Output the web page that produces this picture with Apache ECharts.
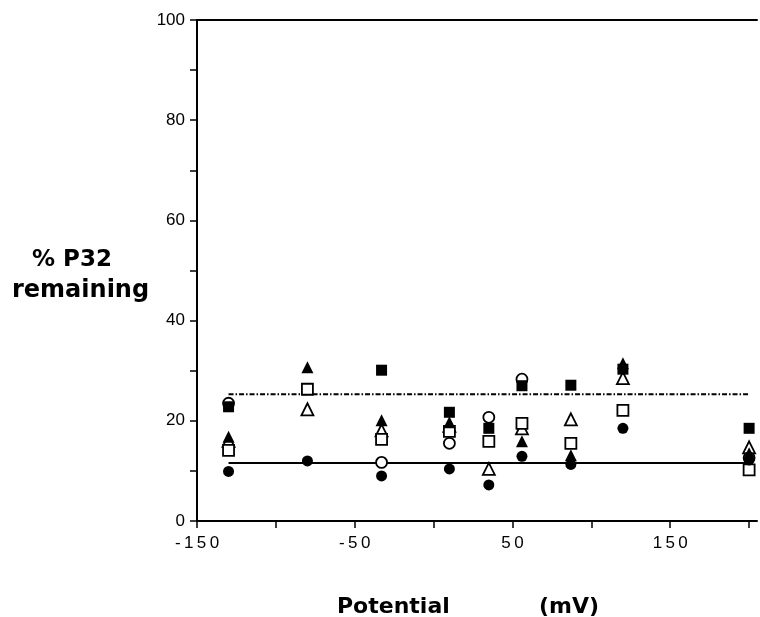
<!DOCTYPE html>
<html>
<head>
<meta charset="utf-8">
<script src="https://cdn.jsdelivr.net/npm/echarts@6/dist/echarts.min.js"></script>
<style>
  html, body { margin: 0; padding: 0; background: #fff; }
  #chart { width: 760px; height: 617px; }
</style>
</head>
<body>
<div id="chart"></div>
<script>
// membrane potential (mV) of each column of points
var potentials = [-130, -80, -33, 10, 35, 56, 87, 120, 200];

// % P32 remaining, one array per marker type (null = no point)
var filledCircle   = [9.9, 12.0, 9.0, 10.4, 7.2, 12.9, 11.3, 18.5, 12.2];
var openCircle     = [23.5, null, 11.7, 15.5, 20.7, 28.3, null, null, 12.6];
var filledSquare   = [22.8, null, 30.1, 21.7, 18.5, 27.0, 27.1, 30.3, 18.5];
var openSquare     = [14.1, 26.3, 16.3, 17.9, 15.9, 19.5, 15.5, 22.1, 10.2];
var filledTriangle = [16.8, 30.7, 20.1, 19.7, null, 15.9, 13.1, 31.5, 13.5];
var openTriangle   = [16.0, 22.3, 18.1, 19.0, 10.4, 18.5, 20.3, 28.5, 14.7];

// horizontal reference lines
var fitX = [-130, 200];
var solidFitY = 11.6;
var dashFitY = 25.3;

// tick labels
var xTickLabels = [-150, -50, 50, 150];
var yTickLabels = [0, 20, 40, 60, 80, 100];

function pairs(ys) {
    var out = [];
    for (var i = 0; i < potentials.length; i++) {
        if (ys[i] !== null) out.push([potentials[i], ys[i]]);
    }
    return out;
}

function spaced(s) {
    return String(s).split('').join('\u2009');
}

var font = 'Liberation Sans, Arial, sans-serif';

function marker(name, data, symbol, size, filled) {
    return {
        name: name,
        type: 'scatter',
        data: pairs(data),
        symbol: symbol,
        symbolSize: size,
        itemStyle: filled
            ? { color: '#000', opacity: 1 }
            : { color: '#fff', borderColor: '#000', borderWidth: 1.8, opacity: 1 },
        z: 3
    };
}

var myChart = echarts.init(document.getElementById('chart'));

myChart.setOption({
    backgroundColor: '#fff',
    animation: false,
    grid: { left: 197, right: 3, top: 20, bottom: 96 },
    xAxis: [
        {
            type: 'value',
            min: -150,
            max: 205,
            interval: 50,
            splitLine: { show: false },
            axisLine: { onZero: false, lineStyle: { color: '#000', width: 2 } },
            axisTick: { length: 7, lineStyle: { color: '#000', width: 1.5 } },
            axisLabel: {
                color: '#000',
                fontFamily: font,
                fontSize: 17,
                margin: 14,
                showMaxLabel: false,
                formatter: function (v) {
                    return xTickLabels.indexOf(v) >= 0 ? spaced(v) : '';
                }
            }
        },
        {
            type: 'value',
            position: 'top',
            min: -150,
            max: 205,
            splitLine: { show: false },
            axisLine: { onZero: false, lineStyle: { color: '#000', width: 2 } },
            axisTick: { show: false },
            axisLabel: { show: false }
        }
    ],
    yAxis: {
        type: 'value',
        min: 0,
        max: 100,
        interval: 10,
        splitLine: { show: false },
        axisLine: { onZero: false, lineStyle: { color: '#000', width: 2 } },
        axisTick: { length: 7, lineStyle: { color: '#000', width: 1.5 } },
        axisLabel: {
            color: '#000',
            fontFamily: font,
            fontSize: 17,
            margin: 12,
            formatter: function (v) {
                return yTickLabels.indexOf(v) >= 0 ? String(v) : '';
            }
        }
    },
    graphic: [
        {
            type: 'text',
            left: 32,
            top: 249,
            style: { text: '% P32', font: 'bold 23px DejaVu Sans, sans-serif', fill: '#000' }
        },
        {
            type: 'text',
            left: 12,
            top: 279,
            style: { text: 'remaining', font: 'bold 24px DejaVu Sans, sans-serif', fill: '#000' }
        },
        {
            type: 'text',
            left: 337,
            top: 596,
            style: { text: 'Potential', font: 'bold 22px DejaVu Sans, sans-serif', fill: '#000' }
        },
        {
            type: 'text',
            left: 539,
            top: 596,
            style: { text: '(mV)', font: 'bold 22px DejaVu Sans, sans-serif', fill: '#000' }
        }
    ],
    series: [
        {
            name: 'solid fit',
            type: 'line',
            data: fitX.map(function (x) { return [x, solidFitY]; }),
            symbol: 'none',
            lineStyle: { color: '#000', width: 2 },
            z: 2
        },
        {
            name: 'dash fit',
            type: 'line',
            data: fitX.map(function (x) { return [x, dashFitY]; }),
            symbol: 'none',
            lineStyle: { color: '#000', width: 2, type: [5, 2, 1.5, 2] },
            z: 2
        },
        marker('open triangle', openTriangle, 'triangle', 12, false),
        marker('open square', openSquare, 'rect', 11, false),
        marker('open circle', openCircle, 'circle', 11, false),
        marker('filled triangle', filledTriangle, 'triangle', 12, true),
        marker('filled square', filledSquare, 'rect', 11, true),
        marker('filled circle', filledCircle, 'circle', 11, true)
    ]
});
</script>
</body>
</html>
